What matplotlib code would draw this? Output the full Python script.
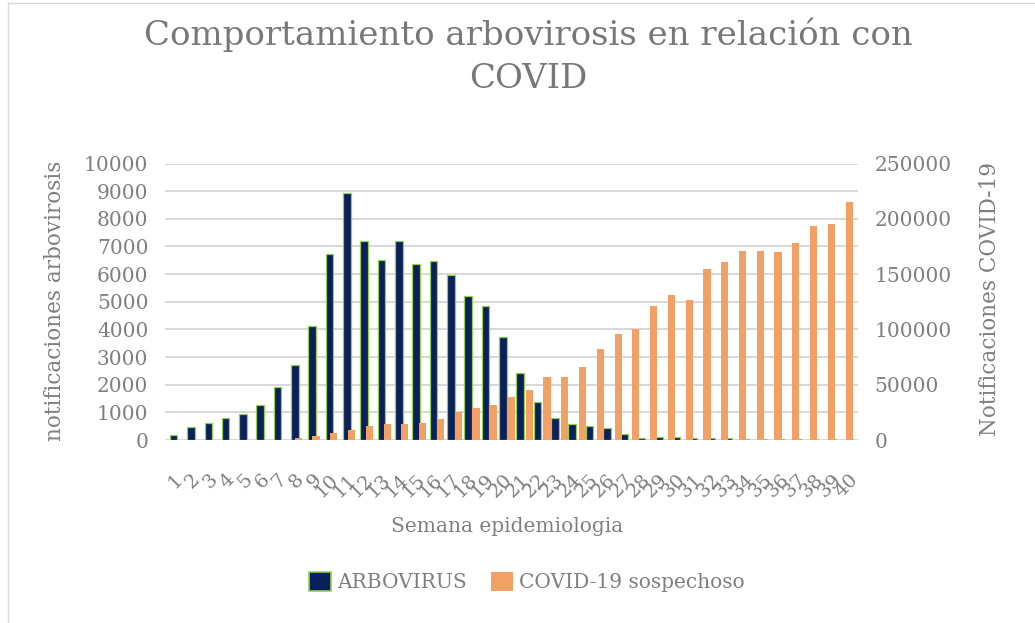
import matplotlib
matplotlib.use("Agg")
import matplotlib.pyplot as plt
from matplotlib.patches import Patch
from matplotlib.lines import Line2D

# datos
semanas = [str(i) for i in range(1, 41)]
arbovirus = [180, 480, 625, 805, 940, 1255, 1905, 2710, 4130, 6710,
             8950, 7200, 6500, 7190, 6350, 6480, 5970, 5220, 4860, 3740,
             2410, 1370, 800, 590, 510, 420, 220, 90, 100, 110,
             80, 90, 60, 50, 50, 50, 40, 40, 40, 40]
covid = [0, 0, 0, 0, 0, 0, 400, 1800, 3800, 6000,
         9300, 12600, 14800, 14200, 15200, 18800, 25600, 28600, 31600, 39200,
         45200, 57200, 57200, 66200, 81900, 95800, 100300, 121100, 130700, 126500,
         154200, 161000, 171300, 171100, 170200, 178300, 193600, 195200, 215300]
ticks_izq = list(range(0, 10001, 1000))
ticks_der = list(range(0, 250001, 50000))

azul = '#0b1f5c'
verde = '#92d050'
naranja = '#f2a064'
gris = '#7f7f7f'

plt.rcParams['font.family'] = ['DejaVu Serif']

fig = plt.figure(figsize=(10.35, 6.23), dpi=100)
W, H = 1035, 623
pos = [165 / W, 1 - 440 / H, (858 - 165) / W, (440 - 163.5) / H]

## eje principal (arbovirus)
ax = fig.add_axes(pos)
x1 = list(range(len(arbovirus)))
ax.bar(x1, arbovirus, width=0.44, color=azul, edgecolor=verde, linewidth=0.9, zorder=2)
ax.set_xlim(-0.5, len(arbovirus) - 0.5)
ax.set_ylim(0, 10000)
ax.set_yticks(ticks_izq)
ax.set_yticklabels([str(t) for t in ticks_izq])
ax.yaxis.grid(True, color='#d6d6d6', linewidth=1.3, zorder=0)
ax.set_axisbelow(True)
ax.set_xticks(x1)
ax.set_xticklabels(semanas, rotation=45, ha='right', rotation_mode='anchor')
ax.tick_params(axis='x', length=0, pad=22, labelsize=14, labelcolor=gris)
ax.tick_params(axis='y', length=0, pad=12, labelsize=14.5, labelcolor=gris)
for s in ax.spines.values():
    s.set_visible(False)

## eje secundario (covid)
ax2 = fig.add_axes(pos)
ax2.patch.set_visible(False)
x2 = list(range(len(covid)))
ax2.bar(x2, covid, width=0.4, color=naranja, linewidth=0, zorder=3)
ax2.set_xlim(-0.5, len(covid) - 0.5)
ax2.set_ylim(0, 250000)
ax2.set_yticks(ticks_der)
ax2.set_yticklabels([str(t) for t in ticks_der])
ax2.yaxis.tick_right()
ax2.set_xticks([])
ax2.tick_params(axis='y', length=0, pad=12, labelsize=14.5, labelcolor=gris)
for s in ax2.spines.values():
    s.set_visible(False)

## textos
fig.text(528 / W, 1 - 56 / H, "Comportamiento arbovirosis en relación con\nCOVID",
         ha='center', va='center', fontsize=24.5, color='#787878', linespacing=1.45)
fig.text(55 / W, 1 - 301 / H, "notificaciones arbovirosis", rotation=90,
         ha='center', va='center', fontsize=15.5, color=gris)
fig.text(990 / W, 1 - 299 / H, "Notificaciones COVID-19", rotation=90,
         ha='center', va='center', fontsize=15.5, color=gris)
fig.text(507 / W, 1 - 527 / H, "Semana epidemiologia",
         ha='center', va='center', fontsize=14.5, color=gris)

handles = [Patch(facecolor=azul, edgecolor=verde, linewidth=1.2),
           Patch(facecolor=naranja, edgecolor='none')]
leg = fig.legend(handles, ["ARBOVIRUS", "COVID-19 sospechoso"], loc='center',
                 bbox_to_anchor=(527 / W, 1 - 582 / H), ncol=2, frameon=False,
                 fontsize=14.5, handlelength=1.1, handleheight=1.1,
                 handletextpad=0.3, columnspacing=1.2)
for t in leg.get_texts():
    t.set_color(gris)

## marco
fig.add_artist(Line2D([8 / W, 8 / W], [0, 1 - 3 / H], color='#d9d9d9', lw=1))
fig.add_artist(Line2D([8 / W, 1], [1 - 3 / H, 1 - 3 / H], color='#d9d9d9', lw=1))

fig.savefig("out.png", dpi=100)
